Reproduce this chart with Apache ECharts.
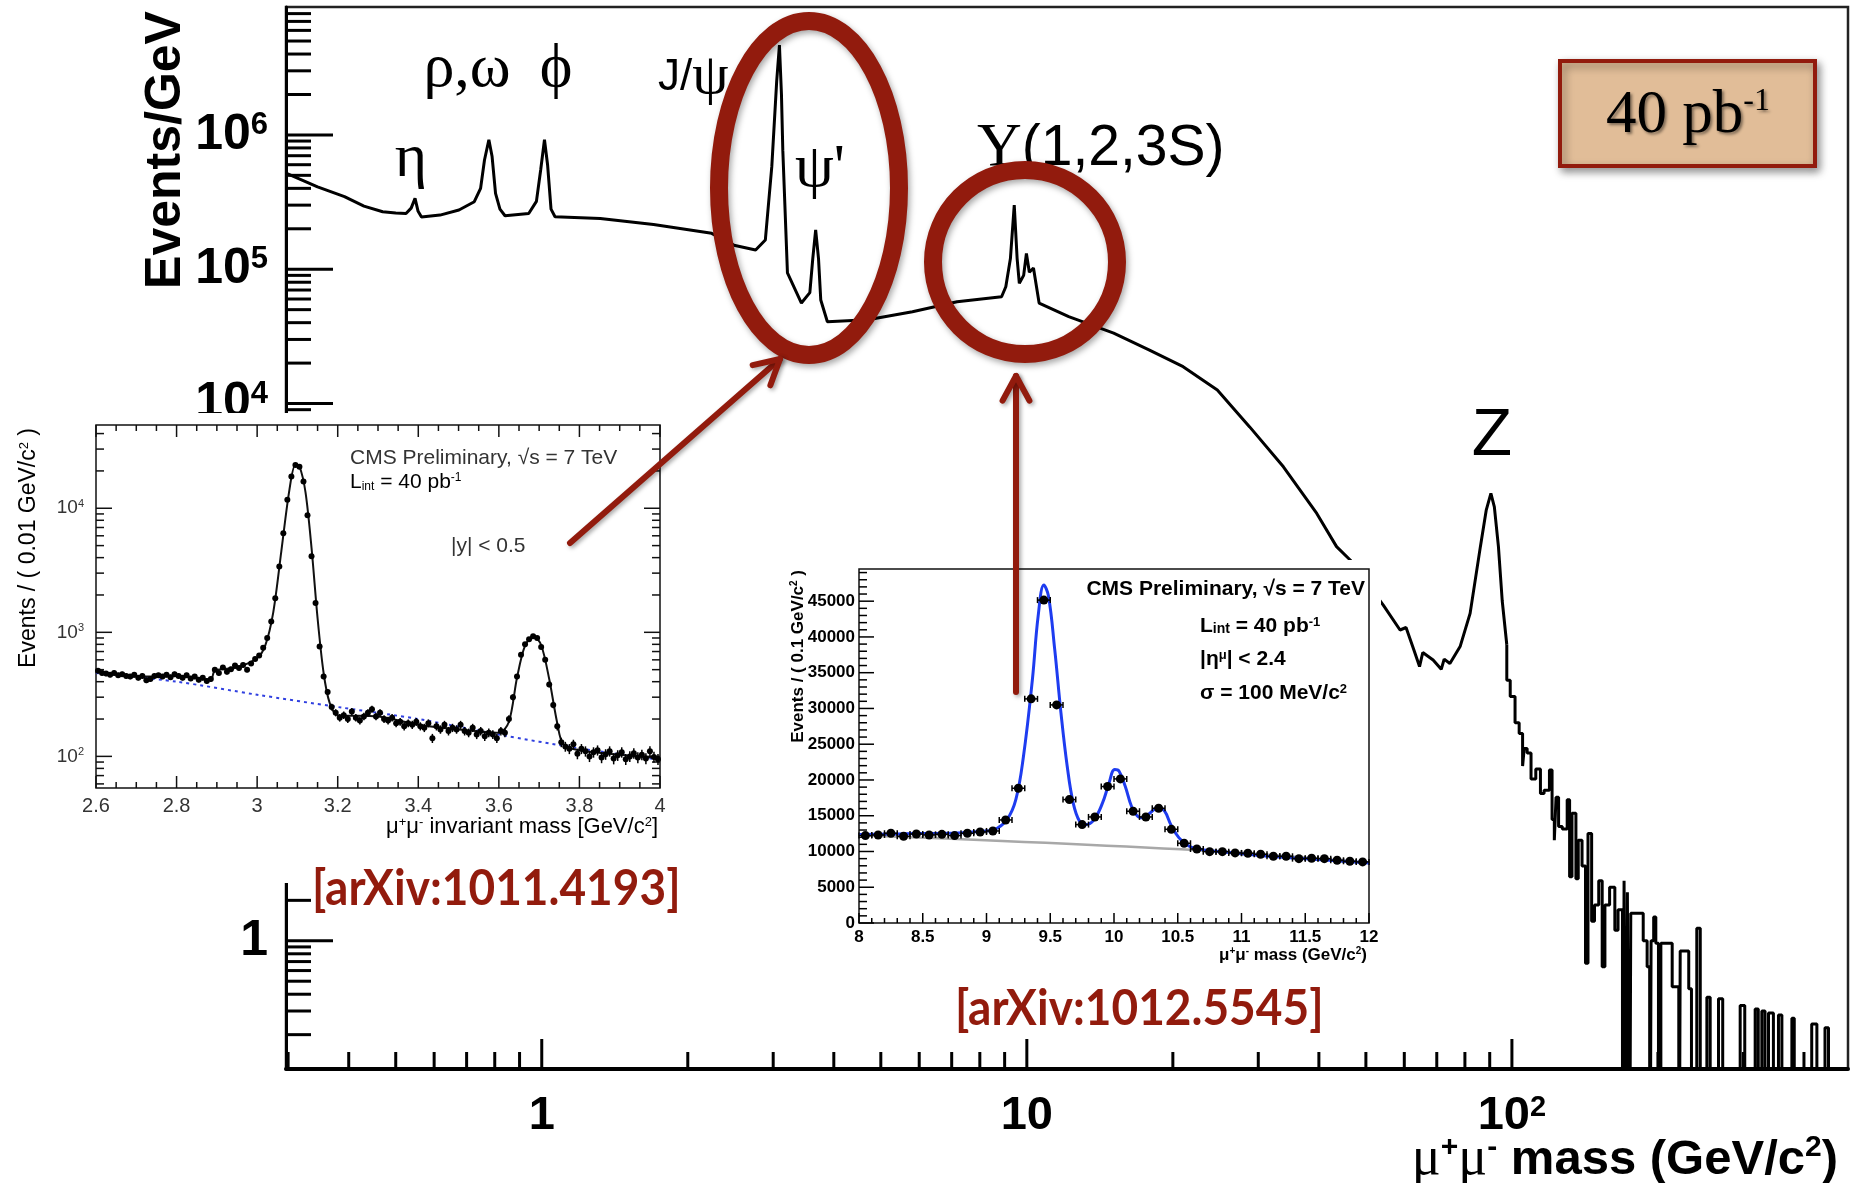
<!DOCTYPE html>
<html><head><meta charset="utf-8">
<script src="https://cdn.jsdelivr.net/npm/echarts@6/dist/echarts.min.js"></script>
<style>html,body{margin:0;padding:0;background:#fff}#c{width:1851px;height:1183px}</style>
</head><body><div id="c"></div>
<script>
// ================= DATA =================
// Main spectrum: low-mass part (dense, drawn as a line)  [GeV], [Events/GeV]
const lowMass = [0.297,0.345,0.392,0.43,0.47,0.50,0.525,0.538,0.548,0.556,0.565,0.617,0.675,0.726,0.748,0.762,0.778,0.79,0.803,0.82,0.84,0.94,0.975,0.995,1.013,1.028,1.045,1.065,1.32,1.7,2.24,2.49,2.76,2.89,2.98,3.05,3.09,3.12,3.14,3.21,3.43,3.57,3.62,3.67,3.72,3.76,3.88,4.70,5.81,7.18,8.87,9.05,9.25,9.42,9.55,9.65,9.85,9.98,10.12,10.32,10.6,12.2,15.1,17.9,21.0,24.7,28.8,33.8,39.6,43.5,46.4,54.3,58.8,60.5,62.8,64.5,65.5,68.8,71.5,72.5,74.5,78.2,82.0,86.1,88.5,90.5,92.0,93.8,95.5,97.6];
const lowEvents = [5.2e5,4.1e5,3.47e5,2.95e5,2.68e5,2.62e5,2.6e5,2.85e5,3.37e5,2.7e5,2.45e5,2.53e5,2.76e5,3.18e5,4.0e5,6.5e5,9.2e5,6.9e5,3.67e5,2.8e5,2.5e5,2.6e5,3.2e5,5.5e5,9.2e5,6.0e5,2.8e5,2.46e5,2.39e5,2.15e5,1.85e5,1.51e5,1.39e5,1.65e5,5.8e5,2.5e6,4.67e6,2.0e6,7.7e5,9.4e4,5.6e4,6.7e4,1.2e5,1.96e5,1.2e5,5.9e4,4.06e4,4.2e4,4.83e4,5.73e4,6.24e4,7.4e4,1.2e5,3.0e5,1.2e5,7.85e4,9.0e4,1.31e5,9.5e4,1.02e5,5.6e4,4.43e4,3.34e4,2.5e4,1.88e4,1.26e4,6.7e3,3.38e3,1.52e3,860,684,316,206,215,146,110,140,123,105,125,116,155,274,860,1600,2140,1700,860,340,160];
// Main spectrum: high-mass histogram (bin left edges, last = upper edge) and contents
const highEdges = [97.6,99.2,101.5,103.5,105.2,106.0,107.5,109.5,112.0,114.5,116.5,119.5,121.0,122.3,123.3,124.8,127.0,130.0,131.5,133.0,135.5,137.0,139.5,141.8,143.5,146.0,148.0,151.0,153.5,155.5,159.0,163.0,165.5,169.0,170.3,171.8,173.0,174.5,175.8,186.5,190.0,192.3,193.6,196.0,198.0,200.5,202.8,214.0,220.8,222.3,231.5,234.5,240.5,244.5,252.3,256.3,266.6,272.0,295.5,302.0,317.3,322.0,327.5,332.5,338.0,346.0,354.4,360.2,377.7,382.0,415.0,425.3,442.0,449.4,493];
const highEvents = [87,66,42,35,20,27,25,16,19,12.5,13.2,18.7,8,5.6,11.7,7.1,6.8,11.2,3.0,8.9,2.9,5.6,3.6,0.68,6.3,1.4,1.85,2.8,0.64,1.85,2.5,1.2,1.7,0,2.8,0,2.3,0,1.6,1.0,0.64,0,1.0,1.5,0.96,0,0.96,0.455,0,0.84,0.44,0,1.24,0,0.38,0,0.37,0,0.33,0,0.31,0,0.30,0,0.29,0,0.28,0,0.265,0,0.24,0,0.225,0];

// Inset 1 (J/psi, psi'): 0.01 GeV bins from 2.60 to 4.00
const jpsiBinLow = 2.60, jpsiBinWidth = 0.01;
const jpsiCounts = [
 490,470,465,455,470,450,460,445,440,455,
 430,445,410,420,445,450,440,455,435,460,
 445,430,450,425,440,415,430,405,420,500,
 470,520,480,505,540,515,545,500,560,610,
 650,750,900,1220,1880,3400,6300,11700,18000,22300,
 21600,16400,8800,4100,1720,770,440,330,250,225,
 205,215,200,230,205,195,210,225,240,210,
 225,200,195,205,185,190,175,185,180,190,
 175,170,185,140,175,165,180,160,170,165,
 180,160,155,170,150,160,145,155,150,140,
 160,155,200,300,440,660,800,880,930,900,
 760,600,380,260,175,130,120,115,125,105,
 115,110,100,108,112,98,104,110,96,102,
 108,95,100,106,98,103,96,110,99,95];
const jpsiFitMass = [2.6,2.65,2.7,2.75,2.8,2.85,2.885,2.895,2.95,3.0,3.02,3.04,3.06,3.08,3.095,3.105,3.12,3.135,3.15,3.165,3.18,3.2,3.3,3.4,3.5,3.6,3.625,3.645,3.665,3.686,3.705,3.725,3.745,3.76,3.8,3.9,4.0];
const jpsiFitVal  = [480,460,440,440,445,430,415,490,520,620,780,1450,4500,14000,22400,21800,13500,4800,1300,470,270,215,210,180,165,155,190,430,780,930,790,420,185,125,112,103,97];
const jpsiBkgMass = [2.6,2.8,3.0,3.2,3.4,3.6,3.8,4.0];
const jpsiBkgVal  = [470,400,314,250,200,150,116,94];

// Inset 2 (Upsilon): 0.1 GeV bins
const upsMass = [8.05,8.15,8.25,8.35,8.45,8.55,8.65,8.75,8.85,8.95,9.05,9.15,9.25,9.35,9.45,9.55,9.65,9.75,9.85,9.95,10.05,10.15,10.25,10.35,10.45,10.55,10.65,10.75,10.85,10.95,11.05,11.15,11.25,11.35,11.45,11.55,11.65,11.75,11.85,11.95];
const upsCounts = [12220,12310,12550,12130,12450,12310,12400,12220,12550,12730,12870,14410,18840,31340,45150,30500,17260,13760,14830,19080,20150,15630,14830,16040,13100,11150,10350,9980,9980,9800,9750,9610,9330,9330,9000,9050,9000,8770,8630,8540];
const upsFitMass = [8.0,8.45,8.77,8.97,9.06,9.16,9.23,9.29,9.36,9.405,9.45,9.486,9.535,9.584,9.633,9.68,9.73,9.78,9.844,9.91,9.958,10.006,10.04,10.088,10.137,10.185,10.234,10.283,10.348,10.397,10.446,10.51,10.59,10.69,10.885,11.21,11.535,12.0];
const upsFitVal  = [12360,12500,12590,12830,13060,14460,17260,23320,34050,42910,47250,45710,38250,29390,21920,16790,14230,13760,14460,16790,19360,21460,21220,19120,16320,14930,14690,15390,16190,15630,13760,11900,10730,10260,9890,9330,8960,8400];
const upsBkgMass = [8.0,10.66,12.0];
const upsBkgVal  = [12270,10170,8400];

// Tick labels
const mainXLabels = {'0':'1','1':'10','2':'{b|10}{s|2}'};
const mainYLabels = {'0':'1','1':'10','2':'{b|10}{s|2}','3':'{b|10}{s|3}','4':'{b|10}{s|4}','5':'{b|10}{s|5}','6':'{b|10}{s|6}'};
const in1YLabels = {'2':'{b|10}{s|2}','3':'{b|10}{s|3}','4':'{b|10}{s|4}'};

// ================= LAYOUT =================
const M = {xMin:0.297, xMax:493, yMin:0.111, yMax:8.96e6};
const I1 = {xMin:2.6, xMax:4.0, yMin:55.6, yMax:46900};
const I2 = {xMin:8, xMax:12, yMin:0, yMax:49500};
const RED = '#921B0D';
const SANS = 'Liberation Sans', SERIF = '"Liberation Serif", "DejaVu Serif"';

function decade(v){ const l = Math.log10(v); const k = Math.round(l); return Math.abs(l-k) < 1e-6 ? String(k) : null; }
function logTickValues(min, max){
  const out = [];
  for (let k = Math.floor(Math.log10(min)); k <= Math.ceil(Math.log10(max)); k++)
    for (let d = 1; d <= 9; d++){ const v = d*Math.pow(10,k); if (v > min*1.001 && v < max*0.999) out.push({v, major: d===1}); }
  return out;
}
const floorZero = v => v > 0 ? v : 1e-3;

// tick items [x, y, dxPixels, dyPixels]
const mainTicks = [];
logTickValues(M.yMin, M.yMax).forEach(t => mainTicks.push([M.xMin, t.v, t.major?47:25, 0]));
logTickValues(M.xMin, M.xMax).forEach(t => mainTicks.push([t.v, M.yMin, 0, t.major?-30:-17]));
const in1Ticks = [];
logTickValues(I1.yMin, I1.yMax).forEach(t => { const L = t.major?16:8; in1Ticks.push([I1.xMin, t.v, L, 0]); in1Ticks.push([I1.xMax, t.v, -L, 0]); });
for (let i = 0; i <= 28; i++){ const v = I1.xMin + i*0.05; const L = i%4===0?12:6; in1Ticks.push([v, I1.yMin, 0, -L]); in1Ticks.push([v, I1.yMax, 0, L]); }
const in2Ticks = [];
for (let i = 0; i <= 49; i++){ in2Ticks.push([I2.xMin, i*1000, i%5===0?15:8, 0]); }
for (let i = 0; i <= 40; i++){ in2Ticks.push([8 + i*0.1, 0, 0, i%5===0?-10:-5]); }

function tickSeries(xi, yi, items, color, width, z){
  return { type:'custom', xAxisIndex:xi, yAxisIndex:yi, z, silent:true, data:items,
    renderItem(p, api){
      const c = api.coord([api.value(0), api.value(1)]);
      return { type:'line', shape:{x1:c[0], y1:c[1], x2:c[0]+api.value(2), y2:c[1]+api.value(3)}, style:{stroke:color, lineWidth:width} };
    }};
}
function pointSeries(xi, yi, items, r, caps, z){
  return { type:'custom', xAxisIndex:xi, yAxisIndex:yi, z, silent:true, data:items,
    renderItem(p, api){
      const x = api.value(0), y = api.value(1), ex = api.value(2), ey = api.value(3);
      const c = api.coord([x,y]), l = api.coord([x-ex,y]), rr = api.coord([x+ex,y]);
      const t = api.coord([x,y+ey]), b = api.coord([x,y-ey]);
      const ch = [
        {type:'line', shape:{x1:l[0],y1:c[1],x2:rr[0],y2:c[1]}, style:{stroke:'#000', lineWidth:1.5}},
        {type:'line', shape:{x1:c[0],y1:t[1],x2:c[0],y2:b[1]}, style:{stroke:'#000', lineWidth:1.5}},
        {type:'circle', shape:{cx:c[0], cy:c[1], r}, style:{fill:'#000'}}
      ];
      if (caps){
        ch.push({type:'line', shape:{x1:l[0],y1:c[1]-3,x2:l[0],y2:c[1]+3}, style:{stroke:'#000', lineWidth:1.5}});
        ch.push({type:'line', shape:{x1:rr[0],y1:c[1]-3,x2:rr[0],y2:c[1]+3}, style:{stroke:'#000', lineWidth:1.5}});
      }
      return {type:'group', children:ch};
    }};
}

const lowData = lowMass.map((m,i)=>[m, lowEvents[i]]);
const stepData = [lowData[lowData.length-1]];
highEvents.forEach((v,i)=> stepData.push([highEdges[i], floorZero(v)]));
stepData.push([highEdges[highEdges.length-1], floorZero(highEvents[highEvents.length-1])]);
const jpsiPts = jpsiCounts.map((n,i)=>[jpsiBinLow + (i+0.5)*jpsiBinWidth, n, jpsiBinWidth/2, Math.sqrt(n)]);
const upsPts = upsCounts.map((n,i)=>[upsMass[i], n, 0.05, Math.sqrt(n)]);

// arrow helper
function arrow(x1,y1,x2,y2){
  const a = Math.atan2(y2-y1, x2-x1), L = 28, s = 0.5;
  const p1 = [x2 - L*Math.cos(a-s), y2 - L*Math.sin(a-s)], p2 = [x2 - L*Math.cos(a+s), y2 - L*Math.sin(a+s)];
  const st = {stroke:RED, lineWidth:6, fill:null, lineCap:'round', lineJoin:'round', shadowBlur:4, shadowColor:'rgba(0,0,0,0.35)', shadowOffsetX:2, shadowOffsetY:2};
  return [
    {type:'polyline', z:40, silent:true, shape:{points:[[x1,y1],[x2,y2]]}, style:st},
    {type:'polyline', z:40, silent:true, shape:{points:[p1,[x2,y2],p2]}, style:st}
  ];
}
function txt(x,y,text,opt){
  return Object.assign({type:'text', x, y, z:opt.z||30, silent:true, rotation:opt.rotation||0, scaleX:opt.scaleX||1,
    style:Object.assign({text, x:0, y:0, fill:opt.fill||'#000', textAlign:opt.align||'left', align:opt.align||'left',
      textVerticalAlign:'middle', verticalAlign:'middle', font:opt.font, rich:opt.rich}, opt.style||{})});
}

const supS = (fs, fam, w) => ({fontSize:fs, fontFamily:fam||SANS, fontWeight:w||'normal', verticalAlign:'top'});
const subS = (fs, fam, w) => ({fontSize:fs, fontFamily:fam||SANS, fontWeight:w||'normal', verticalAlign:'bottom'});

const graphics = [
  {type:'rect', z:10, silent:true, shape:{x:6,y:413,width:662,height:470}, style:{fill:'#fff'}},
  {type:'rect', z:10, silent:true, shape:{x:783,y:560,width:598,height:403}, style:{fill:'#fff'}},
  // main axis titles
  txt(166,150,'Events/GeV',{font:'bold 50px '+SANS, align:'center', rotation:Math.PI/2, z:5}),
  txt(1838,1160,'{g|μ}{p|+}{g|μ}{p|-}{t| mass (GeV/c}{p|2}{t|)}',{align:'right', z:5,
    rich:{g:{fontSize:54,fontFamily:SERIF}, t:{fontSize:49,fontFamily:SANS,fontWeight:'bold'}, p:supS(30,SANS,'bold')}}),
  // peak labels
  txt(411,160,'η',{font:'62px '+SERIF, align:'center'}),
  txt(467,70,'ρ,ω',{font:'62px '+SERIF, align:'center'}),
  txt(556,70,'ϕ',{font:'62px '+SERIF, align:'center'}),
  txt(658,78,'{s|J/}{g|ψ}',{rich:{s:{fontSize:44,fontFamily:SANS}, g:{fontSize:58,fontFamily:SERIF}}}),
  txt(820,170,"ψ'",{font:'62px '+SERIF, align:'center'}),
  txt(977,149,'{g|Υ}{s|(1,2,3S)}',{rich:{g:{fontSize:62,fontFamily:SERIF}, s:{fontSize:57,fontFamily:SANS}}}),
  txt(1492,437,'Z',{font:'66px '+SANS, align:'center'}),
  // inset 1 texts
  txt(350,458,'CMS Preliminary, √s = 7 TeV',{font:'21px '+SANS, fill:'#333', z:20}),
  txt(350,482,'{t|L}{b|int}{t| = 40 pb}{s|-1}',{z:20, rich:{t:{fontSize:21,fontFamily:SANS,color:'#333'}, b:subS(12), s:supS(12)}}),
  txt(451,546,'|y| < 0.5',{font:'21px '+SANS, fill:'#333', z:20}),
  txt(29,428,'{t|Events / ( 0.01 GeV/c}{s|2}{t| )}',{align:'right', rotation:Math.PI/2, z:20, rich:{t:{fontSize:23,fontFamily:SANS,color:'#333'}, s:supS(13)}}),
  txt(658,827,'{t|μ}{s|+}{t|μ}{s|-}{t| invariant mass [GeV/c}{s|2}{t|]}',{align:'right', z:20, rich:{t:{fontSize:22,fontFamily:SANS,color:'#333'}, s:supS(13)}}),
  // inset 2 texts
  txt(1365,589,'CMS Preliminary, √s = 7 TeV',{font:'bold 21px '+SANS, align:'right', z:20}),
  txt(1200,626,'{t|L}{b|int}{t| = 40 pb}{s|-1}',{z:20, rich:{t:{fontSize:21,fontFamily:SANS,fontWeight:'bold'}, b:subS(14,SANS,'bold'), s:supS(13,SANS,'bold')}}),
  txt(1200,659,'{t||η}{s|μ}{t|| < 2.4}',{z:20, rich:{t:{fontSize:21,fontFamily:SANS,fontWeight:'bold'}, s:supS(13,SANS,'bold')}}),
  txt(1200,693,'{t|σ = 100 MeV/c}{s|2}',{z:20, rich:{t:{fontSize:21,fontFamily:SANS,fontWeight:'bold'}, s:supS(13,SANS,'bold')}}),
  txt(798,570,'{t|Events / ( 0.1 GeV/c}{s|2}{t| )}',{align:'right', rotation:Math.PI/2, z:20, rich:{t:{fontSize:17,fontFamily:SANS,fontWeight:'bold'}, s:supS(10,SANS,'bold')}}),
  txt(1367,955,'{t|μ}{s|+}{t|μ}{s|-}{t| mass (GeV/c}{s|2}{t|)}',{align:'right', z:20, rich:{t:{fontSize:17,fontFamily:SANS,fontWeight:'bold'}, s:supS(10,SANS,'bold')}}),
  // highlight ellipses
  {type:'ellipse', z:40, silent:true, shape:{cx:809,cy:188,rx:90,ry:167}, style:{fill:null, stroke:RED, lineWidth:18, shadowBlur:6, shadowColor:'rgba(0,0,0,0.35)', shadowOffsetX:2, shadowOffsetY:3}},
  {type:'ellipse', z:40, silent:true, shape:{cx:1025,cy:262,rx:92,ry:92}, style:{fill:null, stroke:RED, lineWidth:18, shadowBlur:6, shadowColor:'rgba(0,0,0,0.35)', shadowOffsetX:2, shadowOffsetY:3}},
  ...arrow(570,543,780,359),
  ...arrow(1016,692,1016,376),
  // luminosity box
  {type:'rect', z:40, silent:true, shape:{x:1560,y:61,width:255,height:105}, style:{fill:'#E1BD98', stroke:RED, lineWidth:4, shadowBlur:8, shadowColor:'rgba(0,0,0,0.4)', shadowOffsetX:3, shadowOffsetY:4}},
  txt(1688,116,'{a|40 pb}{b|-1}',{align:'center', z:41, rich:{
    a:{fontSize:61,fontFamily:SERIF,color:RED,textShadowColor:'rgba(0,0,0,0.45)',textShadowBlur:3,textShadowOffsetX:2,textShadowOffsetY:2},
    b:{fontSize:32,fontFamily:SERIF,color:RED,verticalAlign:'top',textShadowColor:'rgba(0,0,0,0.45)',textShadowBlur:3,textShadowOffsetX:2,textShadowOffsetY:2}}}),
  // references
  txt(312,889,'[arXiv:1011.4193]',{font:'bold 50px Lato', fill:RED, z:40, scaleX:0.92}),
  txt(955,1009,'[arXiv:1012.5545]',{font:'bold 50px Lato', fill:RED, z:40, scaleX:0.92})
];

const noAxisBits = {axisTick:{show:false}, splitLine:{show:false}, minorTick:{show:false}};
const option = {
  animation:false,
  backgroundColor:'#fff',
  grid:[
    {left:286, top:7, width:1562, height:1062, show:true, borderColor:'#222', borderWidth:2.5, backgroundColor:'transparent', containLabel:false, outerBoundsMode:'none', z:0},
    {left:96, top:425, width:564, height:363, show:true, borderColor:'#111', borderWidth:1.5, backgroundColor:'transparent', containLabel:false, outerBoundsMode:'none', z:12},
    {left:859, top:569, width:510, height:354, show:true, borderColor:'#111', borderWidth:1.5, backgroundColor:'transparent', containLabel:false, outerBoundsMode:'none', z:12}
  ],
  xAxis:[
    Object.assign({gridIndex:0, type:'log', logBase:10, min:M.xMin, max:M.xMax, z:1,
      axisLine:{show:true, onZero:false, lineStyle:{color:'#000', width:4}},
      axisLabel:{margin:24, color:'#000', fontSize:47, fontWeight:'bold', fontFamily:SANS,
        formatter:v=>{const k=decade(v); return k!==null && mainXLabels[k]!==undefined ? mainXLabels[k] : '';},
        rich:{b:{fontSize:47,fontWeight:'bold',fontFamily:SANS}, s:{fontSize:29,fontWeight:'bold',fontFamily:SANS,verticalAlign:'top'}}}}, noAxisBits),
    Object.assign({gridIndex:1, type:'value', min:I1.xMin, max:I1.xMax, interval:0.2, z:12,
      axisLine:{show:false}, axisLabel:{margin:8, color:'#333', fontSize:20, fontFamily:SANS,
        formatter:v=>String(Math.round(v*10)/10)}}, noAxisBits),
    Object.assign({gridIndex:2, type:'value', min:I2.xMin, max:I2.xMax, interval:0.5, z:12,
      axisLine:{show:false}, axisLabel:{margin:6, color:'#000', fontSize:17, fontWeight:'bold', fontFamily:SANS}}, noAxisBits)
  ],
  yAxis:[
    Object.assign({gridIndex:0, type:'log', logBase:10, min:M.yMin, max:M.yMax, z:1,
      axisLine:{show:true, onZero:false, lineStyle:{color:'#000', width:3}},
      axisLabel:{margin:18, color:'#000', fontSize:50, fontWeight:'bold', fontFamily:SANS,
        formatter:v=>{const k=decade(v); return k!==null && mainYLabels[k]!==undefined ? mainYLabels[k] : '';},
        rich:{b:{fontSize:50,fontWeight:'bold',fontFamily:SANS}, s:{fontSize:31,fontWeight:'bold',fontFamily:SANS,verticalAlign:'top'}}}}, noAxisBits),
    Object.assign({gridIndex:1, type:'log', logBase:10, min:I1.yMin, max:I1.yMax, z:12,
      axisLine:{show:false}, axisLabel:{margin:12, color:'#333', fontSize:19, fontFamily:SANS,
        formatter:v=>{const k=decade(v); return k!==null && in1YLabels[k]!==undefined ? in1YLabels[k] : '';},
        rich:{b:{fontSize:19,fontFamily:SANS,color:'#333'}, s:{fontSize:11,fontFamily:SANS,color:'#333',verticalAlign:'top'}}}}, noAxisBits),
    Object.assign({gridIndex:2, type:'value', min:I2.yMin, max:I2.yMax, interval:5000, z:12,
      axisLine:{show:false}, axisLabel:{margin:4, color:'#000', fontSize:17, fontWeight:'bold', fontFamily:SANS,
        formatter:v=> (v % 5000 === 0) ? String(v) : ''}}, noAxisBits)
  ],
  graphic:{elements:graphics},
  series:[
    {type:'line', xAxisIndex:0, yAxisIndex:0, z:2, data:lowData, symbol:'none', clip:true, lineStyle:{color:'#000', width:3}},
    {type:'line', xAxisIndex:0, yAxisIndex:0, z:2, data:stepData, step:'end', symbol:'none', clip:true, lineStyle:{color:'#000', width:3}},
    tickSeries(0,0,mainTicks,'#000',3,3),
    tickSeries(1,1,in1Ticks,'#111',1.5,13),
    {type:'line', xAxisIndex:1, yAxisIndex:1, z:14, data:jpsiBkgMass.map((m,i)=>[m,jpsiBkgVal[i]]), symbol:'none', smooth:0.3, lineStyle:{color:'#3040E0', width:2, type:[3,4]}},
    {type:'line', xAxisIndex:1, yAxisIndex:1, z:14, data:jpsiFitMass.map((m,i)=>[m,jpsiFitVal[i]]), symbol:'none', smooth:0.3, lineStyle:{color:'#111', width:2}},
    pointSeries(1,1,jpsiPts,3,false,15),
    tickSeries(2,2,in2Ticks,'#000',1.5,13),
    {type:'line', xAxisIndex:2, yAxisIndex:2, z:14, data:upsBkgMass.map((m,i)=>[m,upsBkgVal[i]]), symbol:'none', smooth:0.4, lineStyle:{color:'#A8A8A8', width:2.5}},
    {type:'line', xAxisIndex:2, yAxisIndex:2, z:14, data:upsFitMass.map((m,i)=>[m,upsFitVal[i]]), symbol:'none', smooth:0.4, lineStyle:{color:'#1E3CF0', width:3}},
    pointSeries(2,2,upsPts,4.5,true,15)
  ]
};
const chart = echarts.init(document.getElementById('c'), null, {renderer:'canvas', width:1851, height:1183});
chart.setOption(option);
</script></body></html>
